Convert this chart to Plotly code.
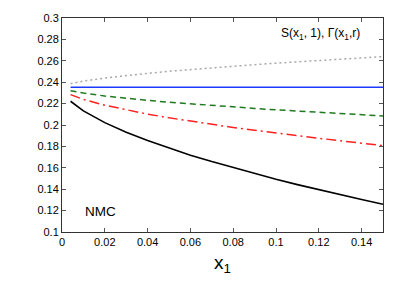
import plotly.graph_objects as go

x_vals = [0.004, 0.01, 0.02, 0.03, 0.04, 0.05, 0.06, 0.07, 0.08, 0.09, 0.10, 0.11, 0.12, 0.13, 0.14, 0.15]
gray_S = [0.2386, 0.2410, 0.2439, 0.2463, 0.2483, 0.2502, 0.2519, 0.2535, 0.2550, 0.2564, 0.2578, 0.2591, 0.2604, 0.2616, 0.2628, 0.2639]
blue_S = [0.2352] * len(x_vals)
green_G = [0.2320, 0.2298, 0.2271, 0.2249, 0.2230, 0.2213, 0.2197, 0.2182, 0.2168, 0.2155, 0.2142, 0.2130, 0.2118, 0.2107, 0.2096, 0.2085]
red_G = [0.2284, 0.2239, 0.2185, 0.2141, 0.2102, 0.2067, 0.2035, 0.2005, 0.1977, 0.1950, 0.1924, 0.1899, 0.1875, 0.1852, 0.1830, 0.1808]
black_G = [0.2222, 0.2132, 0.2022, 0.1932, 0.1854, 0.1784, 0.1718, 0.1658, 0.1601, 0.1546, 0.1493, 0.1443, 0.1395, 0.1348, 0.1303, 0.1259]

x_ticks = [0, 0.02, 0.04, 0.06, 0.08, 0.1, 0.12, 0.14]
x_labels = ["0", "0.02", "0.04", "0.06", "0.08", "0.1", "0.12", "0.14"]
y_ticks = [0.1, 0.12, 0.14, 0.16, 0.18, 0.2, 0.22, 0.24, 0.26, 0.28, 0.3]
y_labels = ["0.1", "0.12", "0.14", "0.16", "0.18", "0.2", "0.22", "0.24", "0.26", "0.28", "0.3"]

FONT = "Liberation Sans, Arial, sans-serif"

fig = go.Figure()
fig.add_trace(go.Scatter(x=x_vals, y=gray_S, mode="lines", line=dict(color="#a8a8a8", width=1.5, dash="2px,3px")))
fig.add_trace(go.Scatter(x=x_vals, y=blue_S, mode="lines", line=dict(color="#1a3cff", width=1.5)))
fig.add_trace(go.Scatter(x=x_vals, y=green_G, mode="lines", line=dict(color="#1e7a1e", width=1.5, dash="6px,4px")))
fig.add_trace(go.Scatter(x=x_vals, y=red_G, mode="lines", line=dict(color="#ff2020", width=1.5, dash="10px,4px,2px,4px")))
fig.add_trace(go.Scatter(x=x_vals, y=black_G, mode="lines", line=dict(color="black", width=1.6)))

axis_common = dict(showline=True, linecolor="#333333", linewidth=1, mirror="ticks", ticks="inside",
                   ticklen=4, tickcolor="#555555", showgrid=False, zeroline=False,
                   tickfont=dict(family=FONT, size=11, color="black"))

fig.update_layout(
    width=415, height=291,
    margin=dict(l=62, r=32, t=16, b=59),
    paper_bgcolor="white", plot_bgcolor="white",
    showlegend=False,
    xaxis=dict(range=[0, 0.15], tickvals=x_ticks, ticktext=x_labels, **axis_common,
               title=dict(text="x<sub>1</sub>", font=dict(family=FONT, size=19, color="black"), standoff=8)),
    yaxis=dict(range=[0.1, 0.3], tickvals=y_ticks, ticktext=y_labels, **axis_common),
    annotations=[
        dict(x=0.140, y=0.2855, xref="x", yref="y", xanchor="right", yanchor="middle", showarrow=False,
             text="S(x<sub>1</sub>, 1), Γ(x<sub>1</sub>,r)",
             font=dict(family=FONT, size=12, color="black")),
        dict(x=0.0098, y=0.1194, xref="x", yref="y", xanchor="left", yanchor="middle", showarrow=False,
             text="NMC", font=dict(family=FONT, size=13.5, color="black")),
    ],
)

fig.write_html("out.html", config={"displayModeBar": False},
               post_script="document.body.style.margin='0';")
